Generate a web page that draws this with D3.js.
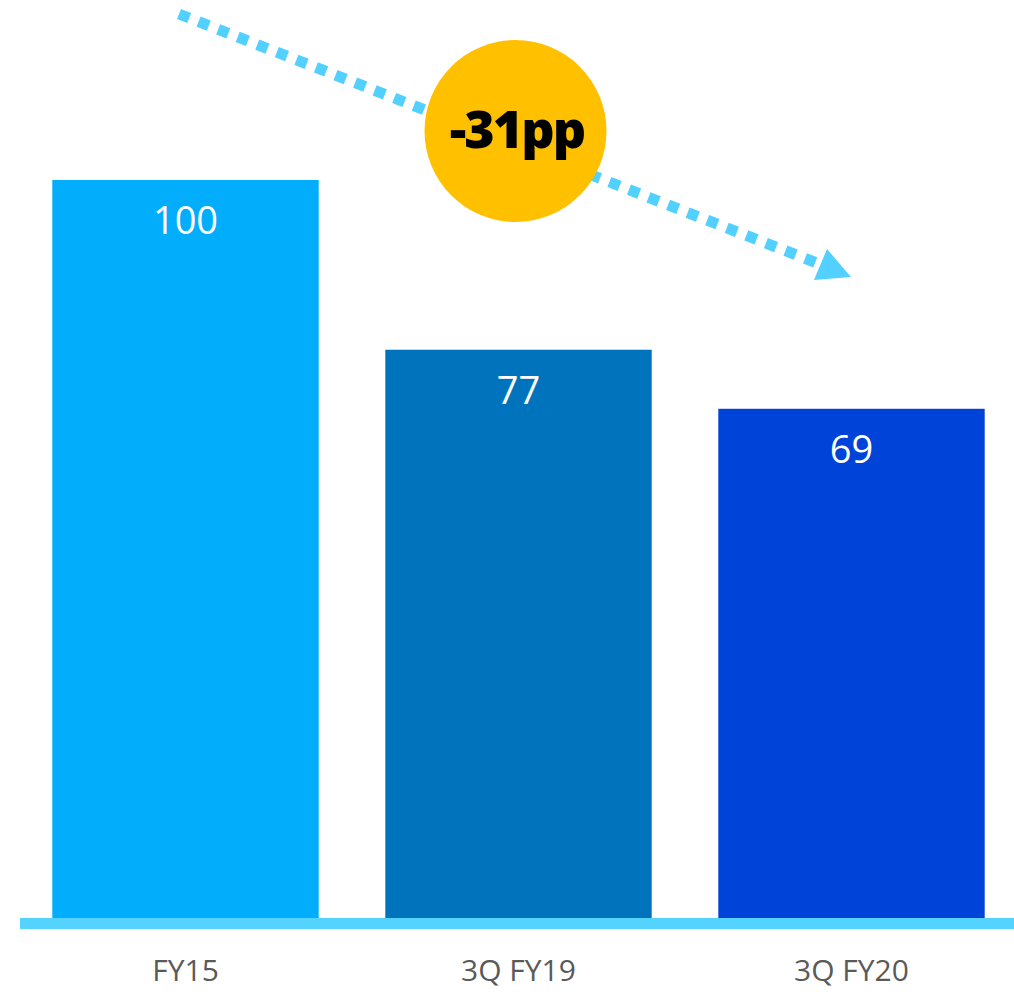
<!DOCTYPE html>
<html><head><meta charset="utf-8">
<script src="https://cdn.jsdelivr.net/npm/d3@7"></script>
<style>html,body{margin:0;padding:0;background:#fff;}svg{display:block;}</style>
</head><body>
<svg id="chart" width="1014" height="1001"></svg>
<script>
const categories = ["FY15", "3Q FY19", "3Q FY20"];
const values = [100, 77, 69];
const barColors = ["#02ADFC", "#0073BD", "#0043D8"];
const changeLabel = "-31pp";

const svg = d3.select("#chart");
const x = d3.scaleBand().domain(categories).range([19, 1018]).paddingInner(0.2).paddingOuter(0.1);
const y = d3.scaleLinear().domain([0, 100]).range([918, 180]);

svg.selectAll("rect.bar").data(values).enter().append("rect")
  .attr("class", "bar")
  .attr("x", (d, i) => x(categories[i]))
  .attr("width", x.bandwidth())
  .attr("y", d => y(d))
  .attr("height", d => y(0) - y(d))
  .attr("fill", (d, i) => barColors[i]);

svg.selectAll("text.val").data(values).enter().append("text")
  .attr("class", "val")
  .attr("x", (d, i) => x(categories[i]) + x.bandwidth() / 2)
  .attr("y", d => y(d) + 54)
  .attr("text-anchor", "middle")
  .attr("fill", "#fff")
  .attr("font-family", "'Open Sans', sans-serif")
  .attr("font-size", 38)
  .text(d => d);

// baseline
svg.append("rect").attr("x", 20).attr("y", y(0)).attr("width", 994).attr("height", 11).attr("fill", "#55D3FF");

// category labels
svg.selectAll("text.cat").data(categories).enter().append("text")
  .attr("class", "cat")
  .attr("x", d => x(d) + x.bandwidth() / 2)
  .attr("y", 981)
  .attr("text-anchor", "middle")
  .attr("fill", "#5a5a5a")
  .attr("font-family", "'Open Sans', sans-serif")
  .attr("font-size", 30)
  .text(d => d);

// dotted arrow
svg.append("line")
  .attr("x1", 179).attr("y1", 14).attr("x2", 822).attr("y2", 265)
  .attr("stroke", "#52D0FF").attr("stroke-width", 11)
  .attr("stroke-dasharray", "11,10");
svg.append("path")
  .attr("d", "M851,277 L814,280 L827,249 Z")
  .attr("fill", "#52D0FF");

// circle
svg.append("circle").attr("cx", 515.5).attr("cy", 131).attr("r", 91).attr("fill", "#FFC000");
svg.append("text")
  .attr("x", 517).attr("y", 148)
  .attr("text-anchor", "middle")
  .attr("font-family", "'Open Sans', sans-serif")
  .attr("font-weight", 800)
  .attr("font-size", 52)
  .attr("letter-spacing", -2)
  .attr("fill", "#000")
  .text(changeLabel);
</script>
</body></html>
